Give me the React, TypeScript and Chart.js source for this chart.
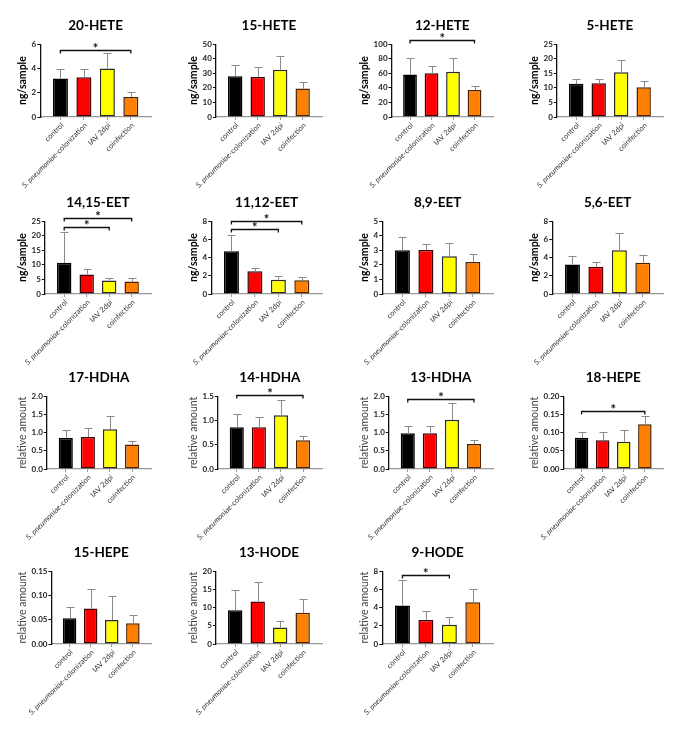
import React, { useEffect, useRef } from 'react';
import { Chart, registerables, CategoryScale } from 'chart.js';

Chart.register(...registerables);

class PaddedCategoryScale extends CategoryScale {
  static id = 'paddedCategory';
  static defaults = (CategoryScale as any).defaults;
  configure() {
    super.configure();
    const e = (this.options as any).extraOffset || 0;
    (this as any)._startValue -= e;
    (this as any)._valueRange += 2 * e;
  }
}
Chart.register(PaddedCategoryScale as any);

// ---------- data ----------
const categories = ['control', 'S. pneumoniae-colonization', 'IAV 2dpi', 'coinfection'];
const barColors = ['#000000', '#ff0000', '#ffff00', '#ff8000'];
const barBorders = ['#000000', '#3a0000', '#2a2a2a', '#4a2200'];

const hete20Mean = [3.17, 3.28, 4.0, 1.65];
const hete20Sd = [0.81, 0.7, 1.27, 0.42];
const hete20Sig = [[0, 3, 5.5]];
const hete20Ticks = [0, 2, 4, 6];

const hete15Mean = [28, 27.5, 32.5, 19.5];
const hete15Sd = [8, 6.5, 9.5, 4.5];
const hete15Sig: number[][] = [];
const hete15Ticks = [0, 10, 20, 30, 40, 50];

const hete12Mean = [58.4, 60, 62, 37];
const hete12Sd = [22.6, 10, 19, 5.5];
const hete12Sig = [[0, 3, 106]];
const hete12Ticks = [0, 20, 40, 60, 80, 100];

const hete5Mean = [11.4, 11.6, 15.4, 10.2];
const hete5Sd = [1.7, 1.5, 4.3, 2.2];
const hete5Sig: number[][] = [];
const hete5Ticks = [0, 5, 10, 15, 20, 25];

const eet1415Mean = [10.7, 6.7, 4.6, 4.3];
const eet1415Sd = [10.5, 2.0, 1.0, 1.3];
const eet1415Sig = [[0, 3, 26.2], [0, 2, 22.9]];
const eet1415Ticks = [0, 5, 10, 15, 20, 25];

const eet1112Mean = [4.7, 2.5, 1.57, 1.5];
const eet1112Sd = [1.8, 0.4, 0.43, 0.4];
const eet1112Sig = [[0, 3, 8.05], [0, 2, 7.1]];
const eet1112Ticks = [0, 2, 4, 6, 8];

const eet89Mean = [3.0, 3.03, 2.6, 2.2];
const eet89Sd = [0.94, 0.37, 0.87, 0.57];
const eet89Sig: number[][] = [];
const eet89Ticks = [0, 1, 2, 3, 4, 5];

const eet56Mean = [3.25, 3.0, 4.82, 3.44];
const eet56Sd = [0.95, 0.5, 1.83, 0.86];
const eet56Sig: number[][] = [];
const eet56Ticks = [0, 2, 4, 6, 8];

const hdha17Mean = [0.85, 0.88, 1.09, 0.67];
const hdha17Sd = [0.21, 0.24, 0.36, 0.11];
const hdha17Sig: number[][] = [];
const hdha17Ticks = [0, 0.5, 1.0, 1.5, 2.0];

const hdha14Mean = [0.86, 0.86, 1.11, 0.59];
const hdha14Sd = [0.27, 0.22, 0.31, 0.09];
const hdha14Sig = [[0, 3, 1.52]];
const hdha14Ticks = [0, 0.5, 1.0, 1.5];

const hdha13Mean = [0.98, 0.98, 1.35, 0.69];
const hdha13Sd = [0.2, 0.2, 0.47, 0.11];
const hdha13Sig = [[0, 3, 1.92]];
const hdha13Ticks = [0, 0.5, 1.0, 1.5, 2.0];

const hepe18Mean = [0.086, 0.079, 0.075, 0.123];
const hepe18Sd = [0.017, 0.024, 0.031, 0.023];
const hepe18Sig = [[0, 3, 0.16]];
const hepe18Ticks = [0, 0.05, 0.1, 0.15, 0.2];

const hepe15Mean = [0.053, 0.073, 0.0495, 0.043];
const hepe15Sd = [0.023, 0.041, 0.0495, 0.016];
const hepe15Sig: number[][] = [];
const hepe15Ticks = [0, 0.05, 0.1, 0.15];

const hode13Mean = [9.3, 11.7, 4.5, 8.6];
const hode13Sd = [5.6, 5.4, 1.8, 3.7];
const hode13Sig: number[][] = [];
const hode13Ticks = [0, 5, 10, 15, 20];

const hode9Mean = [4.24, 2.64, 2.12, 4.6];
const hode9Sd = [2.76, 0.96, 0.88, 1.4];
const hode9Sig = [[0, 2, 7.58]];
const hode9Ticks = [0, 2, 4, 6, 8];

const NG = 'ng/sample';
const REL = 'relative amount';

type Panel = {
  title: string;
  unit: string;
  mean: number[];
  sd: number[];
  sig: number[][];
  ticks: number[];
  dec: number;
};

const panels: Panel[] = [
  { title: '20-HETE', unit: NG, mean: hete20Mean, sd: hete20Sd, sig: hete20Sig, ticks: hete20Ticks, dec: 0 },
  { title: '15-HETE', unit: NG, mean: hete15Mean, sd: hete15Sd, sig: hete15Sig, ticks: hete15Ticks, dec: 0 },
  { title: '12-HETE', unit: NG, mean: hete12Mean, sd: hete12Sd, sig: hete12Sig, ticks: hete12Ticks, dec: 0 },
  { title: '5-HETE', unit: NG, mean: hete5Mean, sd: hete5Sd, sig: hete5Sig, ticks: hete5Ticks, dec: 0 },
  { title: '14,15-EET', unit: NG, mean: eet1415Mean, sd: eet1415Sd, sig: eet1415Sig, ticks: eet1415Ticks, dec: 0 },
  { title: '11,12-EET', unit: NG, mean: eet1112Mean, sd: eet1112Sd, sig: eet1112Sig, ticks: eet1112Ticks, dec: 0 },
  { title: '8,9-EET', unit: NG, mean: eet89Mean, sd: eet89Sd, sig: eet89Sig, ticks: eet89Ticks, dec: 0 },
  { title: '5,6-EET', unit: NG, mean: eet56Mean, sd: eet56Sd, sig: eet56Sig, ticks: eet56Ticks, dec: 0 },
  { title: '17-HDHA', unit: REL, mean: hdha17Mean, sd: hdha17Sd, sig: hdha17Sig, ticks: hdha17Ticks, dec: 1 },
  { title: '14-HDHA', unit: REL, mean: hdha14Mean, sd: hdha14Sd, sig: hdha14Sig, ticks: hdha14Ticks, dec: 1 },
  { title: '13-HDHA', unit: REL, mean: hdha13Mean, sd: hdha13Sd, sig: hdha13Sig, ticks: hdha13Ticks, dec: 1 },
  { title: '18-HEPE', unit: REL, mean: hepe18Mean, sd: hepe18Sd, sig: hepe18Sig, ticks: hepe18Ticks, dec: 2 },
  { title: '15-HEPE', unit: REL, mean: hepe15Mean, sd: hepe15Sd, sig: hepe15Sig, ticks: hepe15Ticks, dec: 2 },
  { title: '13-HODE', unit: REL, mean: hode13Mean, sd: hode13Sd, sig: hode13Sig, ticks: hode13Ticks, dec: 0 },
  { title: '9-HODE', unit: REL, mean: hode9Mean, sd: hode9Sd, sig: hode9Sig, ticks: hode9Ticks, dec: 0 },
];

// ---------- layout ----------
const COL_LEFT = [0, 171, 342, 512];
const ROW_TOP = [0, 177, 352, 527];
const CW = 172;
const CH = 192;
const FONT = 'Lato, "Open Sans", sans-serif';

function extrasPlugin(p: Panel) {
  return {
    id: 'extras',
    afterDatasetsDraw(chart: any) {
      const ctx = chart.ctx as CanvasRenderingContext2D;
      const xs = chart.scales.x;
      const ys = chart.scales.y;
      const meta = chart.getDatasetMeta(0);
      ctx.save();
      // error bars (upper whisker only)
      ctx.strokeStyle = '#8a8a8a';
      ctx.lineWidth = 1;
      meta.data.forEach((bar: any, i: number) => {
        const topV = ys.getPixelForValue(p.mean[i] + p.sd[i]);
        const bx = Math.round(bar.x) + 0.5;
        const ty = Math.round(topV) + 0.5;
        ctx.beginPath();
        ctx.moveTo(bx, bar.y);
        ctx.lineTo(bx, ty);
        ctx.moveTo(bx - 4, ty);
        ctx.lineTo(bx + 4, ty);
        ctx.stroke();
      });
      // significance brackets
      ctx.strokeStyle = '#111';
      ctx.fillStyle = '#111';
      ctx.lineWidth = 1.3;
      p.sig.forEach(([a, b, v]) => {
        const xa = xs.getPixelForValue(a);
        const xb = xs.getPixelForValue(b);
        const yy = Math.round(ys.getPixelForValue(v)) + 0.5;
        ctx.beginPath();
        ctx.moveTo(xa, yy + 3);
        ctx.lineTo(xa, yy);
        ctx.lineTo(xb, yy);
        ctx.lineTo(xb, yy + 3);
        ctx.stroke();
        ctx.font = `bold 13px ${FONT}`;
        ctx.textAlign = 'center';
        ctx.textBaseline = 'alphabetic';
        ctx.fillText('*', (xa + xb) / 2, yy + 2);
      });
      ctx.restore();
    },
    afterDraw(chart: any) {
      const ctx = chart.ctx as CanvasRenderingContext2D;
      const xs = chart.scales.x;
      ctx.save();
      ctx.fillStyle = '#333';
      ctx.textBaseline = 'middle';
      ctx.textAlign = 'right';
      categories.forEach((lab, i) => {
        const px = xs.getPixelForTick(i);
        ctx.save();
        ctx.translate(px + 2, xs.top + 7);
        ctx.rotate(-Math.PI / 4);
        const m = lab.match(/^(S\. pneumoniae)(.*)$/);
        if (m) {
          ctx.font = `7.5px ${FONT}`;
          ctx.fillText(m[2], 0, 0);
          const w = ctx.measureText(m[2]).width;
          ctx.font = `italic 7.5px ${FONT}`;
          ctx.fillText(m[1], -w, 0);
        } else {
          ctx.font = `7.5px ${FONT}`;
          ctx.fillText(lab, 0, 0);
        }
        ctx.restore();
      });
      ctx.restore();
    },
  };
}

function PanelChart({ p, left, top }: { p: Panel; left: number; top: number }) {
  const ref = useRef<HTMLCanvasElement>(null);
  useEffect(() => {
    const bold = p.unit === NG;
    const chart = new Chart(ref.current as HTMLCanvasElement, {
      type: 'bar',
      data: {
        labels: categories,
        datasets: [
          {
            data: p.mean,
            backgroundColor: barColors,
            borderColor: barBorders,
            borderWidth: 1.5,
            borderSkipped: false,
            barPercentage: 0.64,
            categoryPercentage: 1,
          },
        ],
      },
      options: {
        responsive: false,
        animation: false,
        devicePixelRatio: 1,
        layout: { padding: { left: 16, right: 21, top: 0, bottom: 0 } },
        plugins: {
          legend: { display: false },
          tooltip: { enabled: false },
          title: {
            display: true,
            text: p.title,
            fullSize: false,
            color: '#000',
            font: { family: FONT, size: 13.5, weight: 'bold' },
            padding: { top: 18, bottom: 10 },
          },
        },
        scales: {
          x: {
            type: 'paddedCategory' as any,
            extraOffset: 0.18,
            offset: true,
            grid: { offset: false, drawOnChartArea: false, drawTicks: true, tickLength: 3, color: '#999' },
            border: { display: true, color: '#999', width: 1.3 },
            ticks: { display: false },
            afterFit: (s: any) => {
              s.height = CH - 117;
            },
          } as any,
          y: {
            min: p.ticks[0],
            max: p.ticks[p.ticks.length - 1],
            afterBuildTicks: (s: any) => {
              s.ticks = p.ticks.map((v) => ({ value: v }));
            },
            ticks: {
              color: '#222',
              padding: 1,
              font: { family: FONT, size: 8, weight: 'bold' },
              callback: (v: any) => Number(v).toFixed(p.dec),
            },
            grid: { drawOnChartArea: false, drawTicks: true, tickLength: 3, color: '#111' },
            border: { display: true, color: '#111', width: 1.3 },
            title: {
              display: true,
              text: p.unit,
              color: bold ? '#000' : '#444',
              font: { family: FONT, size: 10.5, weight: bold ? 'bold' : 'normal' },
              padding: { top: 0, bottom: 2 },
            },
          },
        },
      },
      plugins: [extrasPlugin(p)],
    } as any);
    return () => chart.destroy();
  }, []);
  return (
    <canvas
      ref={ref}
      width={CW}
      height={CH}
      style={{ position: 'absolute', left, top, width: CW, height: CH }}
    />
  );
}

export default function App() {
  return (
    <div style={{ position: 'absolute', left: 0, top: 0, width: 685, height: 734, background: '#fff', overflow: 'hidden' }}>
      {panels.map((p, i) => (
        <PanelChart key={p.title} p={p} left={COL_LEFT[i % 4]} top={ROW_TOP[Math.floor(i / 4)]} />
      ))}
    </div>
  );
}
